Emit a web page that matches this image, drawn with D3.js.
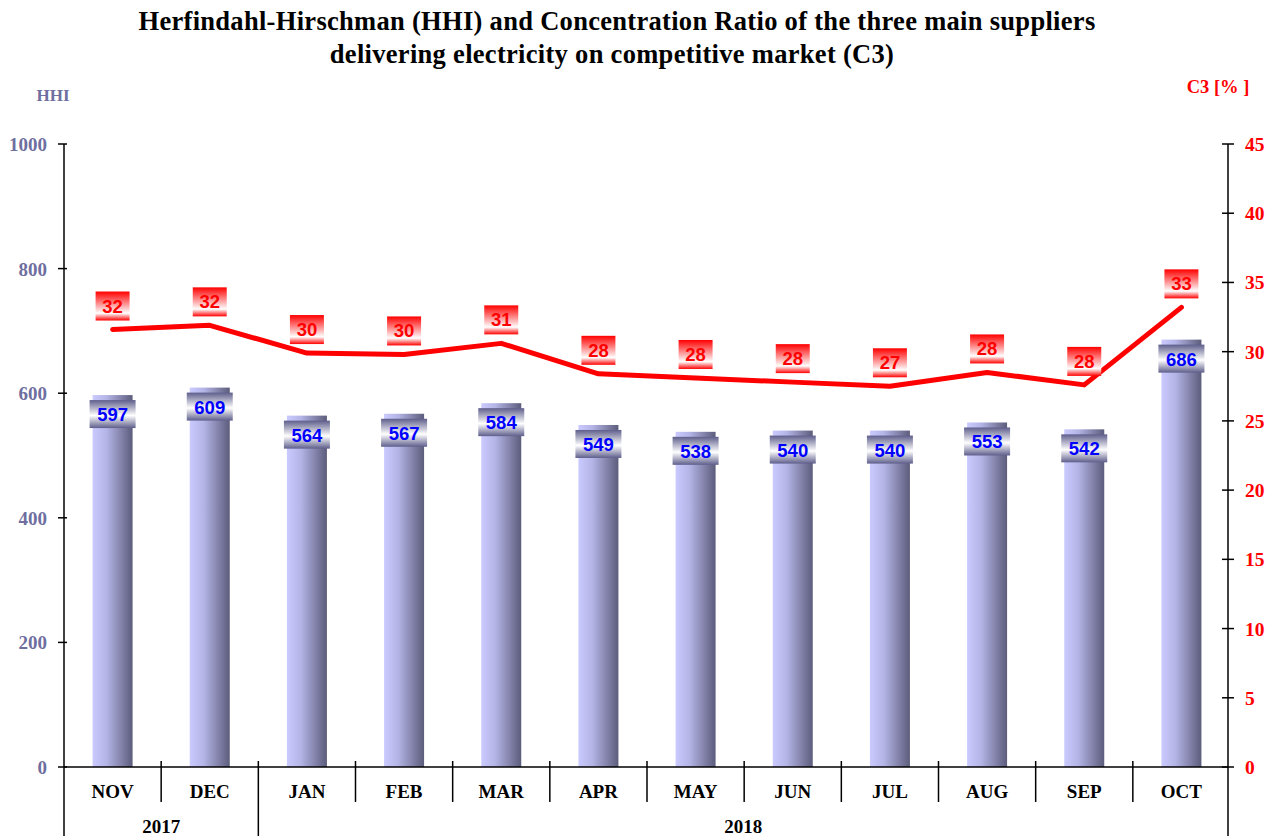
<!DOCTYPE html>
<html>
<head>
<meta charset="utf-8">
<script src="https://cdn.jsdelivr.net/npm/d3@7"></script>
<style>
  body { margin: 0; background: #fff; }
  svg text { font-family: "Liberation Serif", "Times New Roman", serif; font-weight: bold; }
</style>
</head>
<body>
<div id="chart"></div>
<script>
// data
const months = ["NOV", "DEC", "JAN", "FEB", "MAR", "APR", "MAY", "JUN", "JUL", "AUG", "SEP", "OCT"];
const years = [{ label: "2017", from: 0, to: 2 }, { label: "2018", from: 2, to: 12 }];
const hhi = [597, 609, 564, 567, 584, 549, 538, 540, 540, 553, 542, 686];
const c3 = [31.6, 31.9, 29.9, 29.8, 30.6, 28.4, 28.1, 27.8, 27.5, 28.5, 27.6, 33.2];
const c3Labels = [32, 32, 30, 30, 31, 28, 28, 28, 27, 28, 28, 33];
const hhiTicks = [0, 200, 400, 600, 800, 1000];
const c3Ticks = [0, 5, 10, 15, 20, 25, 30, 35, 40, 45];

const width = 1278, height = 836;
const margin = { top: 144, right: 48, bottom: 69, left: 64 };

const svg = d3.select("#chart").append("svg")
  .attr("width", width)
  .attr("height", height);

const defs = svg.append("defs");

// bar body: light left -> dark right
const barGrad = defs.append("linearGradient").attr("id", "barGrad")
  .attr("x1", "0%").attr("x2", "100%").attr("y1", "0%").attr("y2", "0%");
barGrad.append("stop").attr("offset", "0%").attr("stop-color", "#cacaff");
barGrad.append("stop").attr("offset", "35%").attr("stop-color", "#b4b4e6");
barGrad.append("stop").attr("offset", "100%").attr("stop-color", "#5c5c7c");

// HHI label box: dark top, white middle, dark bottom
const boxGrad = defs.append("linearGradient").attr("id", "boxGrad")
  .attr("x1", "0%").attr("x2", "0%").attr("y1", "0%").attr("y2", "100%");
boxGrad.append("stop").attr("offset", "0%").attr("stop-color", "#5e5e8c");
boxGrad.append("stop").attr("offset", "55%").attr("stop-color", "#ffffff");
boxGrad.append("stop").attr("offset", "100%").attr("stop-color", "#5e5e8c");

// C3 label box: red top, white lower, red edge
const redGrad = defs.append("linearGradient").attr("id", "redGrad")
  .attr("x1", "0%").attr("x2", "0%").attr("y1", "0%").attr("y2", "100%");
redGrad.append("stop").attr("offset", "0%").attr("stop-color", "#ff0000");
redGrad.append("stop").attr("offset", "75%").attr("stop-color", "#ffffff");
redGrad.append("stop").attr("offset", "100%").attr("stop-color", "#ff0000");

const x = d3.scaleBand()
  .domain(months)
  .range([margin.left, width - margin.right]);

const yL = d3.scaleLinear().domain([0, 1000]).range([height - margin.bottom, margin.top]);
const yR = d3.scaleLinear().domain([0, 45]).range([height - margin.bottom, margin.top]);

const y0 = yL(0);
const barW = 40;

// title
svg.append("text")
  .attr("x", 617).attr("y", 30)
  .attr("text-anchor", "middle")
  .style("font-size", "26.5px")
  .style("letter-spacing", "0.3px")
  .text("Herfindahl-Hirschman (HHI) and Concentration Ratio of the three main suppliers");
svg.append("text")
  .attr("x", 612).attr("y", 63)
  .attr("text-anchor", "middle")
  .style("font-size", "26.5px")
  .style("letter-spacing", "0.3px")
  .text("delivering electricity on competitive market (C3)");

// axis titles
svg.append("text")
  .attr("x", 53).attr("y", 101)
  .attr("text-anchor", "middle")
  .attr("fill", "#6e6ea0")
  .style("font-size", "17px")
  .text("HHI");
svg.append("text")
  .attr("x", 1218).attr("y", 93)
  .attr("text-anchor", "middle")
  .attr("fill", "#ff0000")
  .style("font-size", "18.5px")
  .text("C3 [% ]");

// bars
svg.append("g").selectAll("rect")
  .data(hhi)
  .join("rect")
  .attr("x", (d, i) => x(months[i]) + x.bandwidth() / 2 - barW / 2)
  .attr("y", d => yL(d))
  .attr("width", barW)
  .attr("height", d => y0 - yL(d))
  .attr("fill", "url(#barGrad)");

// left axis
const left = svg.append("g").attr("transform", `translate(${margin.left},0)`);
left.append("line")
  .attr("y1", yL(1000)).attr("y2", y0)
  .attr("stroke", "#000").attr("stroke-width", 1.5);
left.selectAll("line.tick")
  .data(hhiTicks)
  .join("line").attr("class", "tick")
  .attr("x1", -6).attr("x2", 3)
  .attr("y1", d => yL(d)).attr("y2", d => yL(d))
  .attr("stroke", "#000").attr("stroke-width", 1.5);
left.selectAll("text")
  .data(hhiTicks)
  .join("text")
  .attr("x", -17).attr("y", d => yL(d) + 7)
  .attr("text-anchor", "end")
  .attr("fill", "#6e6ea0")
  .style("font-size", "19px")
  .text(d => d);

// right axis
const rx = width - margin.right - 2;
const right = svg.append("g").attr("transform", `translate(${rx},0)`);
right.append("line")
  .attr("y1", yR(45)).attr("y2", height)
  .attr("stroke", "#000").attr("stroke-width", 1.5);
right.selectAll("line.tick")
  .data(c3Ticks)
  .join("line").attr("class", "tick")
  .attr("x1", -6).attr("x2", 6)
  .attr("y1", d => yR(d)).attr("y2", d => yR(d))
  .attr("stroke", "#000").attr("stroke-width", 1.5);
right.selectAll("text")
  .data(c3Ticks)
  .join("text")
  .attr("x", 17).attr("y", d => yR(d) + 7)
  .attr("text-anchor", "start")
  .attr("fill", "#ff0000")
  .style("font-size", "19.5px")
  .text(d => d);

// x axis and category table
const xa = svg.append("g");
xa.append("line")
  .attr("x1", margin.left).attr("x2", rx)
  .attr("y1", y0).attr("y2", y0)
  .attr("stroke", "#000").attr("stroke-width", 1.5);
xa.append("line")
  .attr("x1", margin.left).attr("x2", margin.left)
  .attr("y1", y0).attr("y2", height)
  .attr("stroke", "#000").attr("stroke-width", 1.5);

const bounds = months.slice(1).map((m, i) => i + 1);
xa.selectAll("line.div")
  .data(bounds)
  .join("line").attr("class", "div")
  .attr("x1", d => x(months[d])).attr("x2", d => x(months[d]))
  .attr("y1", y0 - 6)
  .attr("y2", d => years.some(yr => yr.from === d) ? height : y0 + 35)
  .attr("stroke", "#000").attr("stroke-width", 1.5);

xa.selectAll("text.month")
  .data(months)
  .join("text").attr("class", "month")
  .attr("x", d => x(d) + x.bandwidth() / 2)
  .attr("y", y0 + 31)
  .attr("text-anchor", "middle")
  .style("font-size", "19px")
  .text(d => d);

xa.selectAll("text.year")
  .data(years)
  .join("text").attr("class", "year")
  .attr("x", d => (x(months[d.from]) + (d.to < months.length ? x(months[d.to]) : rx)) / 2)
  .attr("y", y0 + 66)
  .attr("text-anchor", "middle")
  .style("font-size", "19px")
  .text(d => d.label);

// HHI value labels
const hl = svg.append("g").selectAll("g")
  .data(hhi)
  .join("g")
  .attr("transform", (d, i) => `translate(${x(months[i]) + x.bandwidth() / 2},${yL(d) + 5})`);
hl.append("rect")
  .attr("x", -23).attr("y", 0)
  .attr("width", 46).attr("height", 28)
  .attr("fill", "url(#boxGrad)");
hl.append("text")
  .attr("y", 21)
  .attr("text-anchor", "middle")
  .attr("fill", "#0000ff")
  .style("font-family", "'Liberation Sans', Arial, sans-serif")
  .style("font-size", "18.5px")
  .text(d => d);

// C3 line
const line = d3.line()
  .x((d, i) => x(months[i]) + x.bandwidth() / 2)
  .y(d => yR(d));
svg.append("path")
  .datum(c3)
  .attr("d", line)
  .attr("fill", "none")
  .attr("stroke", "#ff0000")
  .attr("stroke-width", 5)
  .attr("stroke-linecap", "round")
  .attr("stroke-linejoin", "round");

// C3 value labels
const cl = svg.append("g").selectAll("g")
  .data(c3)
  .join("g")
  .attr("transform", (d, i) => `translate(${x(months[i]) + x.bandwidth() / 2},${yR(d) - 24})`);
cl.append("rect")
  .attr("x", -17).attr("y", -14)
  .attr("width", 34).attr("height", 29)
  .attr("fill", "url(#redGrad)");
cl.append("text")
  .attr("y", 7)
  .attr("text-anchor", "middle")
  .attr("fill", "#ff0000")
  .style("font-family", "'Liberation Sans', Arial, sans-serif")
  .style("font-size", "18.5px")
  .text((d, i) => c3Labels[i]);
</script>
</body>
</html>
